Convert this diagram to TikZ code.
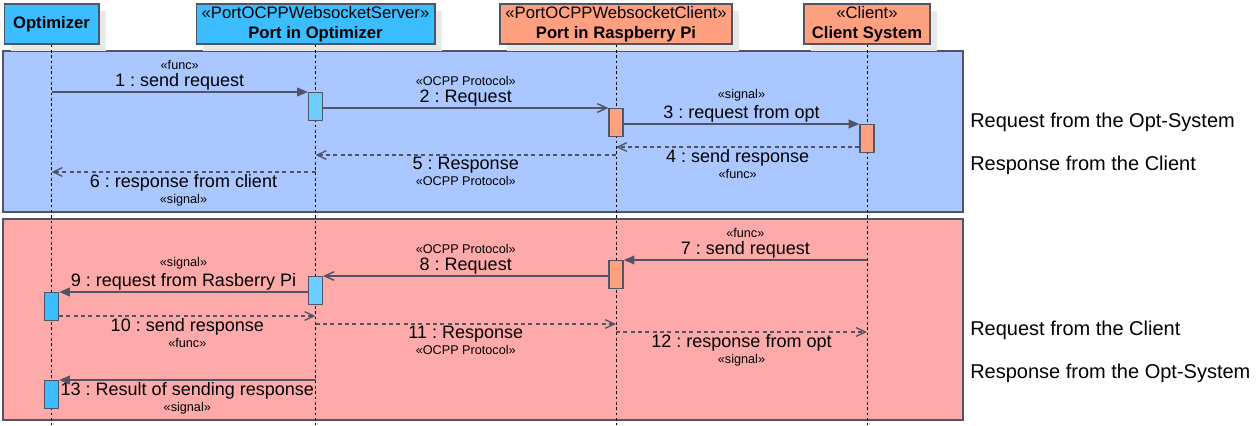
\documentclass[tikz,border=0pt]{standalone}
\usepackage{fontspec}
\setmainfont{Liberation Sans}
\usetikzlibrary{arrows.meta}
\usetikzlibrary{positioning}
\usetikzlibrary{shadows}
\frenchspacing

\definecolor{hdrblue}{RGB}{59,189,255}
\definecolor{hdrsalmon}{RGB}{255,160,128}
\definecolor{actblue}{RGB}{110,205,255}
\definecolor{bandblue}{RGB}{170,200,255}
\definecolor{bandpink}{RGB}{255,170,170}
\definecolor{edgegrey}{RGB}{80,85,100}
\definecolor{shadowgrey}{RGB}{232,232,232}

\tikzset{
  head/.style={draw=edgegrey, line width=1pt, minimum height=30pt, align=center, inner sep=0pt,
    font=\fontsize{12.5}{15}\selectfont, general shadow={fill=shadowgrey, shadow xshift=5pt, shadow yshift=-5pt}},
  act/.style={draw=edgegrey, line width=0.9pt, minimum width=10.5pt, minimum height=21pt, inner sep=0pt, anchor=north},
  life/.style={black, line width=0.6pt, dash pattern=on 2pt off 2pt},
  band/.style={draw=edgegrey, line width=1pt},
  call/.style={edgegrey, line width=1.1pt, -{Triangle[length=8pt,width=6.5pt]}},
  async/.style={edgegrey, line width=1.1pt, -{Straight Barb[length=7pt,width=6.5pt]}},
  reply/.style={edgegrey, line width=1pt, dash pattern=on 3pt off 2.5pt, -{Straight Barb[length=7pt,width=6.5pt]}},
  msg/.style={font=\fontsize{13.5}{15}\selectfont, inner sep=1pt, text=black},
  stereo/.style={font=\fontsize{9.5}{10}\selectfont, inner sep=0pt},
  note/.style={font=\fontsize{15}{17}\selectfont, anchor=west, inner sep=0pt},
}

\begin{document}
\begin{tikzpicture}[x=0.75pt,y=-0.75pt]
\useasboundingbox (0,0) rectangle (1260,425);

\draw[band, fill=bandblue] (3,51) rectangle (963,212); % opt -> client
\draw[band, fill=bandpink] (3,219) rectangle (963,420); % client -> opt

% heads
\node[head, fill=hdrblue, minimum width=71pt] (opt) at (51.5,24) {\textbf{Optimizer}};
\node[head, fill=hdrblue, minimum width=179pt] (srv) at (315.5,24) {«PortOCPPWebsocketServer»\\\textbf{Port in Optimizer}};
\node[head, fill=hdrsalmon, minimum width=174pt] (cli) at (616,24) {«PortOCPPWebsocketClient»\\\textbf{Port in Raspberry Pi}};
\node[head, fill=hdrsalmon, minimum width=94.5pt] (sys) at (867,24) {«Client»\\\textbf{Client System}};

% lifelines
\coordinate (optend) at (opt |- 0,425);
\coordinate (srvend) at (srv |- 0,425);
\coordinate (cliend) at (cli |- 0,425);
\coordinate (sysend) at (sys |- 0,425);
\draw[life] (opt.south) -- (optend);
\draw[life] (srv.south) -- (srvend);
\draw[life] (cli.south) -- (cliend);
\draw[life] (sys.south) -- (sysend);

% activations
\node[act, fill=actblue] (b1) at (srv |- 0,92) {};
\node[act, fill=hdrsalmon] (b2) at (cli |- 0,108) {};
\node[act, fill=hdrsalmon] (b3) at (sys |- 0,124) {};
\node[act, fill=hdrsalmon] (b7) at (cli |- 0,260) {};
\node[act, fill=actblue] (b8) at (srv |- 0,276) {};
\node[act, fill=hdrblue] (b9) at (opt |- 0,292) {};
\node[act, fill=hdrblue] (b13) at (opt |- 0,380) {};

% request from the opt-system
\coordinate (p1) at (opt |- b1.north);
\draw[call] (p1) -- (b1.north west) node[msg, midway, above] (t1) {1 : send request};
\node[stereo, above=1pt of t1] (s1) {«func»};
\draw[async] (b1.east |- b2.north) -- (b2.north west) node[msg, midway, above] (t2) {2 : Request};
\node[stereo, above=1pt of t2] (s2) {«OCPP Protocol»};
\draw[call] (b2.east |- b3.north) -- (b3.north west) node[msg, midway, above] (t3) {3 : request from opt};
\node[stereo, above=1pt of t3] (s3) {«signal»};

% response from the client
\coordinate (p4) at (cli |- 0,147);
\draw[reply] (b3.west |- p4) -- (p4) node[msg, midway, below] (t4) {4 : send response};
\node[stereo, below=1pt of t4] (s4) {«func»};
\coordinate (p5a) at (cli |- 0,155);
\coordinate (p5b) at (srv |- 0,155);
\draw[reply] (p5a) -- (p5b) node[msg, midway, below] (t5) {5 : Response};
\node[stereo, below=1pt of t5] (s5) {«OCPP Protocol»};
\coordinate (p6a) at (srv |- 0,172);
\coordinate (p6b) at (opt |- 0,172);
\draw[reply] (p6a) -- (p6b) node[msg, midway, below] (t6) {6 : response from client};
\node[stereo, below=1pt of t6] (s6) {«signal»};

% request from the client
\coordinate (p7) at (sys |- b7.north);
\draw[call] (p7) -- (b7.north east) node[msg, midway, above] (t7) {7 : send request};
\node[stereo, above=1pt of t7] (s7) {«func»};
\draw[async] (b7.west |- b8.north) -- (b8.north east) node[msg, midway, above] (t8) {8 : Request};
\node[stereo, above=1pt of t8] (s8) {«OCPP Protocol»};
\draw[call] (b8.west |- b9.north) -- (b9.north east) node[msg, midway, above] (t9) {9 : request from Rasberry Pi};
\node[stereo, above=1pt of t9] (s9) {«signal»};

% response from the opt-system
\coordinate (p10) at (srv |- 0,316);
\draw[reply] (b9.east |- p10) -- (p10) node[msg, midway, below] (t10) {10 : send response};
\node[stereo, below=1pt of t10] (s10) {«func»};
\coordinate (p11a) at (srv |- 0,324);
\coordinate (p11b) at (cli |- 0,324);
\draw[reply] (p11a) -- (p11b) node[msg, midway, below] (t11) {11 : Response};
\node[stereo, below=1pt of t11] (s11) {«OCPP Protocol»};
\coordinate (p12a) at (cli |- 0,332);
\coordinate (p12b) at (sys |- 0,332);
\draw[reply] (p12a) -- (p12b) node[msg, midway, below] (t12) {12 : response from opt};
\node[stereo, below=1pt of t12] (s12) {«signal»};
\coordinate (p13) at (srv |- b13.north);
\draw[call] (p13) -- (b13.north east) node[msg, midway, below] (t13) {13 : Result of sending response};
\node[stereo, below=1pt of t13] (s13) {«signal»};

% notes
\node[note] (n1) at (970,122) {Request from the Opt-System};
\node[note] (n2) at (970,165) {Response from the Client};
\node[note] (n3) at (970,330) {Request from the Client};
\node[note] (n4) at (970,373) {Response from the Opt-System};
\end{tikzpicture}
\end{document}
